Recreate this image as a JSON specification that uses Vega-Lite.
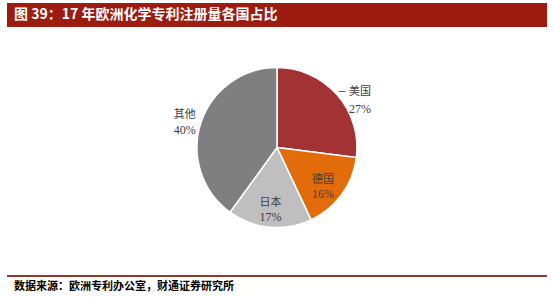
{
  "$schema": "https://vega.github.io/schema/vega-lite/v6.json",
  "background": "white",
  "padding": {"left": 7, "top": 3, "right": 7, "bottom": 0},
  "spacing": 0,
  "config": {"view": {"stroke": null}, "concat": {"spacing": 0}},
  "datasets": {
    "share": [
      {"country": "美国", "value": 0.27, "idx": 1},
      {"country": "德国", "value": 0.16, "idx": 2},
      {"country": "日本", "value": 0.17, "idx": 3},
      {"country": "其他", "value": 0.40, "idx": 4}
    ]
  },
  "vconcat": [
    {
      "width": 540,
      "height": 24,
      "view": {"fill": "#9C1C10", "stroke": null},
      "title": {
        "text": "图 39：17 年欧洲化学专利注册量各国占比",
        "anchor": "start",
        "orient": "top",
        "offset": -19,
        "dx": 7,
        "color": "#ffffff",
        "font": "Noto Sans CJK SC",
        "fontSize": 14,
        "fontWeight": "bold"
      },
      "data": {"values": []},
      "mark": "point",
      "encoding": {}
    },
    {
      "width": 540,
      "height": 241,
      "data": {"name": "share"},
      "encoding": {
        "theta": {"field": "value", "type": "quantitative", "stack": true},
        "order": {"field": "idx", "type": "quantitative"},
        "color": {
          "field": "country",
          "type": "nominal",
          "scale": {"domain": ["美国", "德国", "日本", "其他"], "range": ["#A23234", "#E36C0A", "#BFBFBF", "#7F7F7F"]},
          "legend": null
        }
      },
      "layer": [
        {"mark": {"type": "arc", "radius": 80, "stroke": "#ffffff", "strokeWidth": 1.5}},
        {
          "mark": {"type": "text", "radius": 58, "dy": -2, "dx": -1, "font": "Noto Sans CJK SC", "fontSize": 11},
          "encoding": {"color": {"value": "#404040"}, "text": {"condition": {"test": "datum.country === '德国' || datum.country === '日本'", "field": "country"}, "value": ""}}
        },
        {
          "mark": {"type": "text", "radius": 58, "dy": 12, "dx": -1, "font": "Liberation Serif", "fontSize": 12},
          "encoding": {"color": {"value": "#404040"}, "text": {"condition": {"test": "datum.country === '德国' || datum.country === '日本'", "field": "value", "format": ".0%"}, "value": ""}}
        },
        {
          "mark": {"type": "text", "radius": 97, "dy": -3, "font": "Noto Sans CJK SC", "fontSize": 11},
          "encoding": {"color": {"value": "#404040"}, "text": {"condition": {"test": "datum.country === '其他'", "field": "country"}, "value": ""}}
        },
        {
          "mark": {"type": "text", "radius": 97, "dy": 12, "font": "Liberation Serif", "fontSize": 12},
          "encoding": {"color": {"value": "#404040"}, "text": {"condition": {"test": "datum.country === '其他'", "field": "value", "format": ".0%"}, "value": ""}}
        },
        {
          "mark": {"type": "text", "radius": 96, "dx": 11, "dy": 8, "font": "Noto Sans CJK SC", "fontSize": 11},
          "encoding": {"color": {"value": "#404040"}, "text": {"condition": {"test": "datum.country === '美国'", "field": "country"}, "value": ""}}
        },
        {
          "mark": {"type": "text", "radius": 96, "dx": 11, "dy": 25, "font": "Liberation Serif", "fontSize": 12},
          "encoding": {"color": {"value": "#404040"}, "text": {"condition": {"test": "datum.country === '美国'", "field": "value", "format": ".0%"}, "value": ""}}
        },
        {
          "mark": {"type": "text", "radius": 96, "dx": -7, "dy": 7, "font": "Liberation Sans", "fontSize": 7, "fontWeight": "bold"},
          "encoding": {"color": {"value": "#404040"}, "text": {"condition": {"test": "datum.country === '美国'", "value": "—"}, "value": ""}}
        }
      ]
    },
    {
      "width": 540,
      "height": 2,
      "view": {"fill": "#8E3B2B", "stroke": null},
      "title": {
        "text": "数据来源：欧洲专利办公室，财通证券研究所",
        "anchor": "start",
        "orient": "bottom",
        "offset": 4,
        "dx": 7,
        "color": "#000000",
        "font": "Noto Sans CJK SC",
        "fontSize": 11,
        "fontWeight": "bold"
      },
      "data": {"values": []},
      "mark": "point",
      "encoding": {}
    }
  ]
}
